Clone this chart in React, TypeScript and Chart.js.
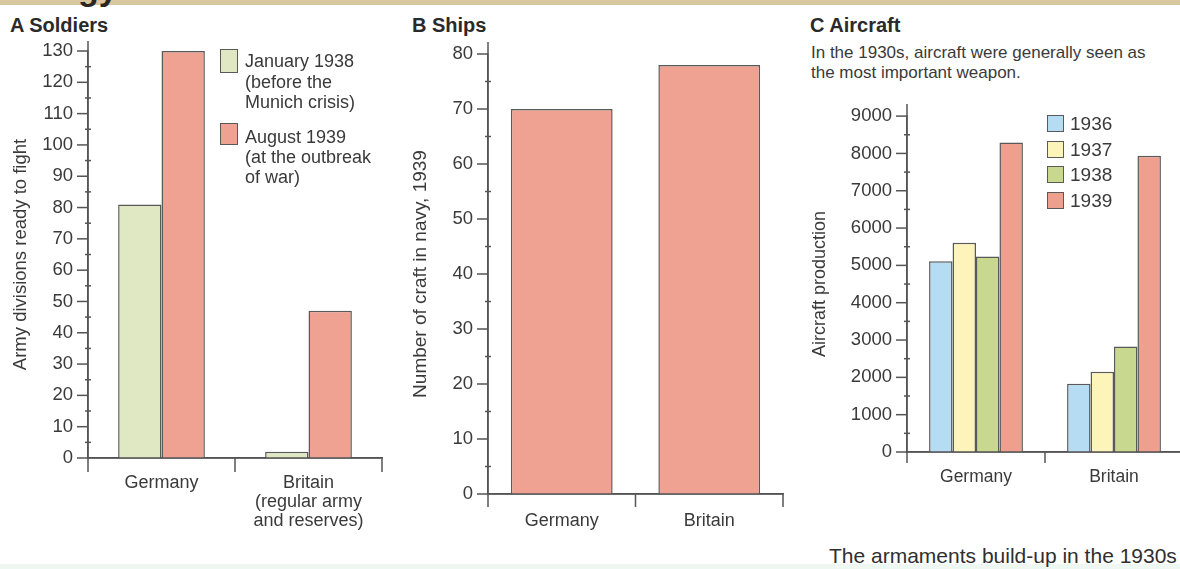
import React, { useEffect, useRef } from 'react';
import { Chart, registerables } from 'chart.js';

Chart.register(...registerables);

const FONT = "'Liberation Sans', Arial, sans-serif";
const TEXT = '#3a3a3a';
const AXIS = '#555555';
const EDGE = '#5a5a5a';

// ---------- Panel A: Soldiers ----------
const soldierCategories: (string | string[])[] = ['Germany', ['Britain', '(regular army', 'and reserves)']];
const soldiersJan1938 = [81, 2];
const soldiersAug1939 = [130, 47];
const soldierLegend1 = ['January 1938', '(before the', 'Munich crisis)'];
const soldierLegend2 = ['August 1939', '(at the outbreak', 'of war)'];
const soldierYMax = 130;
const soldierYStep = 5;
const soldierYLabelStep = 10;

// ---------- Panel B: Ships ----------
const shipCategories = ['Germany', 'Britain'];
const ships1939 = [70, 78];
const shipYMax = 80;
const shipYStep = 5;
const shipYLabelStep = 10;

// ---------- Panel C: Aircraft ----------
const aircraftCategories = ['Germany', 'Britain'];
const aircraftYears = ['1936', '1937', '1938', '1939'];
const aircraft1936 = [5112, 1830];
const aircraft1937 = [5606, 2153];
const aircraft1938 = [5235, 2827];
const aircraft1939 = [8295, 7940];
const aircraftYMax = 9000;
const aircraftYStep = 500;
const aircraftYLabelStep = 1000;

const C_PALEGREEN = '#dfe8c2';
const C_SALMON = '#efa192';
const C_BLUE = '#b5dcf3';
const C_YELLOW = '#fdf4ba';
const C_GREEN = '#c8d88f';
const C_RED = '#ef9f8d';

const axisMarks = {
  id: 'axisMarks',
  afterDraw(chart: any, _args: any, opts: any) {
    const { ctx, chartArea } = chart;
    const x = chart.scales.x;
    const y = chart.scales.y;
    ctx.save();
    ctx.strokeStyle = AXIS;
    ctx.lineWidth = 1.5;
    ctx.lineCap = 'butt';
    // y axis line (extended above top)
    ctx.beginPath();
    ctx.moveTo(chartArea.left, chartArea.top - opts.extendTop);
    ctx.lineTo(chartArea.left, chartArea.bottom);
    ctx.stroke();
    // x axis line
    ctx.beginPath();
    ctx.moveTo(chartArea.left, chartArea.bottom);
    ctx.lineTo(chartArea.right, chartArea.bottom);
    ctx.stroke();
    // y ticks
    y.ticks.forEach((t: any) => {
      const py = y.getPixelForValue(t.value);
      ctx.beginPath();
      if (t.value % opts.labelStep === 0) {
        ctx.moveTo(chartArea.left - opts.majorLen, py);
        ctx.lineTo(chartArea.left, py);
      } else {
        ctx.moveTo(chartArea.left - 3, py);
        ctx.lineTo(chartArea.left + 3, py);
      }
      ctx.stroke();
    });
    // x category boundary ticks
    const n = x.ticks.length;
    for (let i = 0; i <= n; i++) {
      const px = x.getPixelForValue(i - 0.5);
      ctx.beginPath();
      ctx.moveTo(px, chartArea.bottom);
      ctx.lineTo(px, chartArea.bottom + opts.xTickLen);
      ctx.stroke();
    }
    ctx.restore();
  },
};

type PanelSpec = {
  labels: any[];
  datasets: any[];
  yMax: number;
  yStep: number;
  yLabelStep: number;
  yTitle: string;
  yTitleSize: number;
  yTitlePad: number;
  yWidth: number;
  xHeight: number;
  padding: { top: number; right: number; bottom: number; left: number };
  xPad: number;
  xLineHeight: number;
  xFont: number;
  yFont: number;
  extendTop: number;
  xTickLen: number;
};

function makeConfig(s: PanelSpec): any {
  return {
    type: 'bar',
    data: { labels: s.labels, datasets: s.datasets },
    options: {
      responsive: false,
      animation: false,
      devicePixelRatio: 1,
      layout: { padding: s.padding, autoPadding: false },
      plugins: {
        legend: { display: false },
        tooltip: { enabled: false },
        axisMarks: { extendTop: s.extendTop, labelStep: s.yLabelStep, majorLen: 11, xTickLen: s.xTickLen },
      },
      scales: {
        x: {
          type: 'category',
          offset: true,
          grid: { display: false, drawTicks: false, offset: true },
          border: { display: true, color: AXIS, width: 1.5 },
          ticks: {
            autoSkip: false,
            maxRotation: 0,
            padding: s.xPad,
            color: TEXT,
            font: { family: FONT, size: s.xFont, lineHeight: s.xLineHeight },
          },
          afterFit: (scale: any) => {
            scale.height = s.xHeight;
          },
        },
        y: {
          type: 'linear',
          min: 0,
          max: s.yMax,
          grid: { display: false, drawTicks: false },
          border: { display: true, color: AXIS, width: 1.5 },
          ticks: {
            stepSize: s.yStep,
            autoSkip: false,
            maxTicksLimit: 100,
            padding: 15,
            color: TEXT,
            font: { family: FONT, size: s.yFont },
            callback: (v: any) => (Number(v) % s.yLabelStep === 0 ? String(v) : ''),
          },
          title: {
            display: true,
            text: s.yTitle,
            color: TEXT,
            font: { family: FONT, size: s.yTitleSize },
            padding: { top: s.yTitlePad, bottom: 0 },
          },
          afterFit: (scale: any) => {
            scale.width = s.yWidth;
          },
        },
      },
    },
    plugins: [axisMarks],
  };
}

function ChartCanvas({ left, top, width, height, spec }: { left: number; top: number; width: number; height: number; spec: PanelSpec }) {
  const ref = useRef<HTMLCanvasElement>(null);
  useEffect(() => {
    const chart = new Chart(ref.current as HTMLCanvasElement, makeConfig(spec));
    return () => chart.destroy();
  }, []);
  return (
    <canvas
      ref={ref}
      width={width}
      height={height}
      style={{ position: 'absolute', left, top, width, height, display: 'block' }}
    />
  );
}

const barEdge = { borderColor: EDGE, borderWidth: 1.5, barPercentage: 1 };

const soldiersSpec: PanelSpec = {
  labels: soldierCategories,
  datasets: [
    { label: soldierLegend1.join(' '), data: soldiersJan1938, backgroundColor: C_PALEGREEN, categoryPercentage: 0.59, ...barEdge },
    { label: soldierLegend2.join(' '), data: soldiersAug1939, backgroundColor: C_SALMON, categoryPercentage: 0.59, ...barEdge },
  ],
  yMax: soldierYMax,
  yStep: soldierYStep,
  yLabelStep: soldierYLabelStep,
  yTitle: 'Army divisions ready to fight',
  yTitleSize: 18.5,
  yTitlePad: 10,
  yWidth: 88,
  xHeight: 80,
  padding: { top: 51, right: 18, bottom: 2, left: 0 },
  xPad: 15,
  xLineHeight: 1.07,
  xFont: 18,
  yFont: 18.5,
  extendTop: 10,
  xTickLen: 14,
};

const shipsSpec: PanelSpec = {
  labels: shipCategories,
  datasets: [
    { label: 'Number of craft in navy, 1939', data: ships1939, backgroundColor: C_SALMON, categoryPercentage: 0.69, ...barEdge },
  ],
  yMax: shipYMax,
  yStep: shipYStep,
  yLabelStep: shipYLabelStep,
  yTitle: 'Number of craft in navy, 1939',
  yTitleSize: 19,
  yTitlePad: 9.5,
  yWidth: 88,
  xHeight: 40,
  padding: { top: 54, right: 17, bottom: 6, left: 0 },
  xPad: 16,
  xLineHeight: 1.2,
  xFont: 18,
  yFont: 18.5,
  extendTop: 12,
  xTickLen: 13,
};

const aircraftSpec: PanelSpec = {
  labels: aircraftCategories,
  datasets: [
    { label: aircraftYears[0], data: aircraft1936, backgroundColor: C_BLUE, categoryPercentage: 0.68, ...barEdge },
    { label: aircraftYears[1], data: aircraft1937, backgroundColor: C_YELLOW, categoryPercentage: 0.68, ...barEdge },
    { label: aircraftYears[2], data: aircraft1938, backgroundColor: C_GREEN, categoryPercentage: 0.68, ...barEdge },
    { label: aircraftYears[3], data: aircraft1939, backgroundColor: C_RED, categoryPercentage: 0.68, ...barEdge },
  ],
  yMax: aircraftYMax,
  yStep: aircraftYStep,
  yLabelStep: aircraftYLabelStep,
  yTitle: 'Aircraft production',
  yTitleSize: 18,
  yTitlePad: 9,
  yWidth: 107,
  xHeight: 40,
  padding: { top: 26, right: 17, bottom: 18, left: 0 },
  xPad: 15,
  xLineHeight: 1.2,
  xFont: 17.5,
  yFont: 18.5,
  extendTop: 12,
  xTickLen: 11,
};

const aircraftColors = [C_BLUE, C_YELLOW, C_GREEN, C_RED];

const abs = (left: number, top: number, extra: React.CSSProperties = {}): React.CSSProperties => ({
  position: 'absolute',
  left,
  top,
  fontFamily: FONT,
  whiteSpace: 'nowrap',
  ...extra,
});

const titleStyle: React.CSSProperties = { fontSize: 20, fontWeight: 700, lineHeight: '20px', color: '#2a2a2a' };

export default function App() {
  useEffect(() => {
    document.body.style.margin = '0';
    document.body.style.overflow = 'hidden';
  }, []);
  return (
    <div style={{ position: 'absolute', left: 0, top: 0, width: 1180, height: 569, overflow: 'hidden', background: '#ffffff' }}>
      {/* top band with cropped heading glyphs */}
      <div style={{ position: 'absolute', left: 0, top: 0, width: 1180, height: 5, background: '#d9c7a0' }} />
      <div style={{ position: 'absolute', left: 78, top: 0, width: 42, height: 9, overflow: 'hidden' }}>
        <div style={abs(0, -29, { fontSize: 34, fontWeight: 700, lineHeight: '34px', color: '#2b2623' })}>gy</div>
      </div>
      <div style={{ position: 'absolute', left: 0, top: 564, width: 1180, height: 5, background: '#eef7f2' }} />

      {/* Panel A */}
      <div style={abs(10, 15, titleStyle)}>A Soldiers</div>
      <ChartCanvas left={0} top={0} width={400} height={540} spec={soldiersSpec} />
      <div style={abs(220, 49, { width: 16, height: 22, background: C_PALEGREEN, border: `1.5px solid ${EDGE}` })} />
      <div style={abs(245, 51, { fontSize: 18, lineHeight: '20.5px', color: TEXT })}>
        {soldierLegend1.map((t, i) => (
          <div key={i}>{t}</div>
        ))}
      </div>
      <div style={abs(220, 123, { width: 16, height: 20, background: C_SALMON, border: `1.5px solid ${EDGE}` })} />
      <div style={abs(245, 126.5, { fontSize: 18, lineHeight: '20px', color: TEXT })}>
        {soldierLegend2.map((t, i) => (
          <div key={i}>{t}</div>
        ))}
      </div>

      {/* Panel B */}
      <div style={abs(412, 15, titleStyle)}>B Ships</div>
      <ChartCanvas left={400} top={0} width={400} height={540} spec={shipsSpec} />

      {/* Panel C */}
      <div style={abs(810, 15, titleStyle)}>C Aircraft</div>
      <div style={abs(811, 43, { fontSize: 17, lineHeight: '19.5px', color: TEXT })}>
        <div>In the 1930s, aircraft were generally seen as</div>
        <div>the most important weapon.</div>
      </div>
      <ChartCanvas left={800} top={90} width={400} height={420} spec={aircraftSpec} />
      {aircraftYears.map((yr, i) => (
        <React.Fragment key={yr}>
          <div style={abs(1047, 115 + i * 25.6, { width: 15, height: 15, background: aircraftColors[i], border: `1.5px solid ${EDGE}` })} />
          <div style={abs(1070, 113 + i * 25.6, { fontSize: 19, lineHeight: '22px', color: TEXT })}>{yr}</div>
        </React.Fragment>
      ))}

      {/* caption */}
      <div style={abs(829, 545, { fontSize: 21, lineHeight: '21px', color: '#2f2f2f' })}>The armaments build-up in the 1930s</div>
    </div>
  );
}
